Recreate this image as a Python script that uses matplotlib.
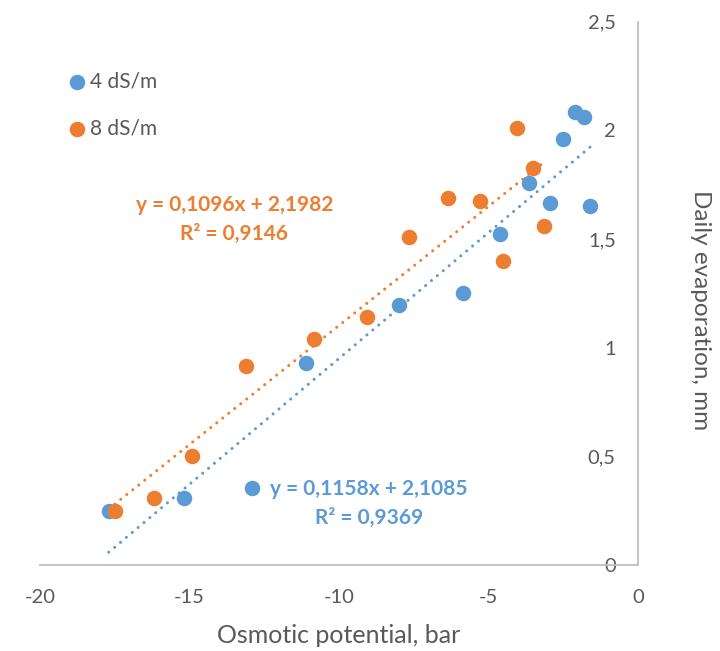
import numpy as np
import matplotlib
matplotlib.use("Agg")
import matplotlib.pyplot as plt

plt.rcParams["font.family"] = ["Lato", "DejaVu Sans"]

# Osmotic potential (bar) and daily evaporation (mm) for the two salinity levels
x_4ds = [-17.7, -15.2, -12.9, -11.1, -8.0, -5.85, -4.6, -3.65, -2.95, -2.5, -2.1, -1.8, -1.6]
y_4ds = [0.25, 0.31, 0.355, 0.93, 1.195, 1.25, 1.525, 1.76, 1.665, 1.96, 2.085, 2.06, 1.65]

x_8ds = [-17.5, -16.2, -14.9, -13.1, -10.85, -9.05, -7.65, -6.35, -5.3, -4.5, -4.05, -3.5, -3.15]
y_8ds = [0.25, 0.31, 0.5, 0.915, 1.04, 1.14, 1.51, 1.69, 1.675, 1.40, 2.01, 1.825, 1.56]

# linear fits (slope, intercept, r2)
fit_4ds = (0.1158, 2.1085, 0.9369)
fit_8ds = (0.1096, 2.1982, 0.9146)

labels = ["4 dS/m", "8 dS/m"]
x_ticks = [-20, -15, -10, -5, 0]
y_ticks = [0, 0.5, 1, 1.5, 2, 2.5]

BLUE = "#5B9BD5"
ORANGE = "#ED7D31"
GRAY = "#595959"
AXIS = "#BFBFBF"


def fmt(v):
    return f"{v:g}".replace(".", ",")


def eq_text(fit):
    a, b, r2 = fit
    return f"y = {a:.4f}x + {b:.4f}".replace(".", ",") + "\n" + \
        f"R² = {r2:.4f}".replace(".", ",")


fig = plt.figure(figsize=(7.2, 6.51), dpi=100)
ax = fig.add_axes([40 / 720, 86 / 651, 598 / 720, 543.3 / 651])

ax.scatter(x_4ds, y_4ds, s=125, color=BLUE, lw=0, zorder=2, label=labels[0])
ax.scatter(x_8ds, y_8ds, s=125, color=ORANGE, lw=0, zorder=2, label=labels[1])

for xs, fit, c in [(x_4ds, fit_4ds, BLUE), (x_8ds, fit_8ds, ORANGE)]:
    xx = np.array([min(xs), max(xs)])
    ax.plot(xx, fit[0] * xx + fit[1], color=c, lw=2.2,
            ls=(0, (0.01, 2.5)), dash_capstyle="round", zorder=3)

ax.text(-13.5, 1.59, eq_text(fit_8ds), color=ORANGE, fontsize=15,
        fontweight="bold", ha="center", va="center", linespacing=1.55)
ax.text(-9.0, 0.285, eq_text(fit_4ds), color=BLUE, fontsize=15,
        fontweight="bold", ha="center", va="center", linespacing=1.55)

ax.set_xlim(-20, 0)
ax.set_ylim(0, 2.5)
ax.set_xticks(x_ticks)
ax.set_xticklabels([fmt(v) for v in x_ticks])
ax.set_yticks(y_ticks)
ax.set_yticklabels([fmt(v) for v in y_ticks])
ax.tick_params(length=0, labelsize=14.5, labelcolor=GRAY)
ax.tick_params(axis="x", pad=17.5)
ax.tick_params(axis="y", pad=16)

for s in ["top", "right"]:
    ax.spines[s].set_visible(False)
ax.spines["left"].set_position(("data", 0))
for s in ["left", "bottom"]:
    ax.spines[s].set_color(AXIS)
    ax.spines[s].set_linewidth(1.3)

ax.set_xlabel("Osmotic potential, bar", fontsize=18, color=GRAY, va="center")
ax.xaxis.set_label_coords(0.5, -0.129)
ax.yaxis.set_label_position("right")
ax.set_ylabel("Daily evaporation, mm", fontsize=17.5, color=GRAY,
              rotation=270, va="center", ha="center", rotation_mode="anchor")
ax.yaxis.set_label_coords(1.104, 0.469)

ax.legend(loc="upper left", bbox_to_anchor=(0.049, 0.909), frameon=False,
          fontsize=15, labelcolor=GRAY, handlelength=0.7, handletextpad=0.3,
          borderpad=0, borderaxespad=0, labelspacing=1.33, markerscale=1)

fig.savefig("out.png", dpi=100)
